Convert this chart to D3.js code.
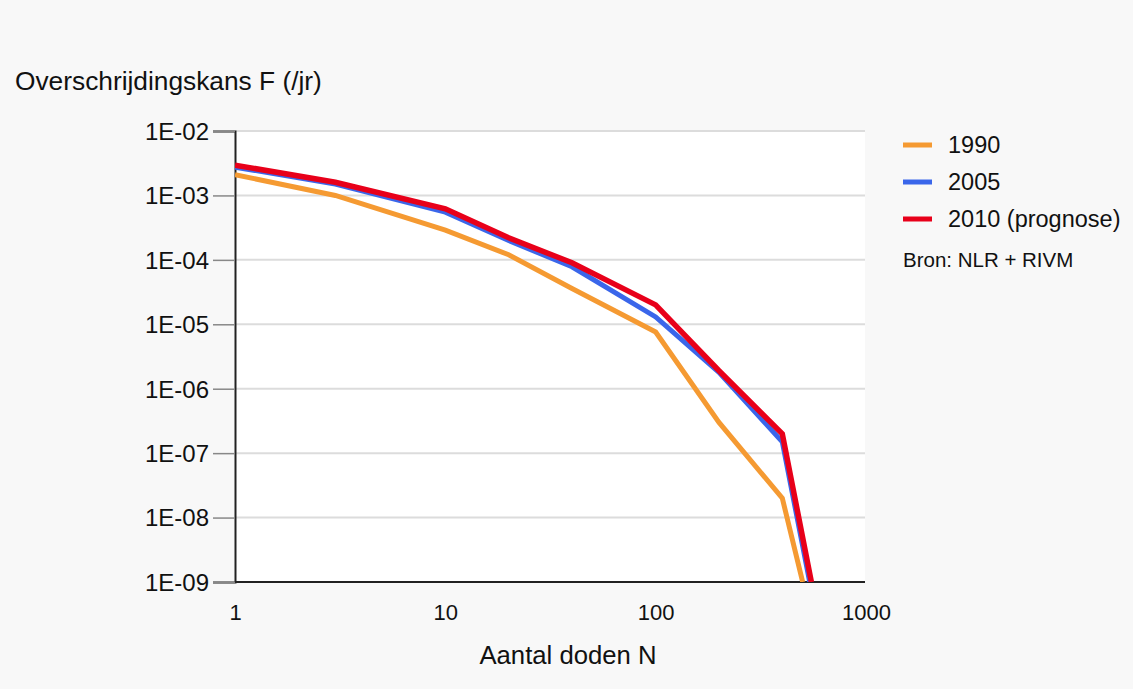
<!DOCTYPE html>
<html lang="nl">
<head>
<meta charset="UTF-8">
<title>FN-curve</title>
<script src="https://d3js.org/d3.v7.min.js"></script>
<style>
    body { margin: 0; background: #f8f8f8; }
    svg text { font-family: "Liberation Sans", Arial, sans-serif; fill: #111; }
</style>
</head>
<body>
<script>
// data
const N1990 = [1, 3, 10, 20, 40, 100, 200, 400, 500];
const F1990 = [2.1e-3, 1.0e-3, 2.9e-4, 1.2e-4, 3.6e-5, 7.6e-6, 3.0e-7, 2.0e-8, 1e-9];
const N2005 = [1, 3, 10, 20, 40, 100, 200, 400, 540];
const F2005 = [2.75e-3, 1.5e-3, 5.5e-4, 2.0e-4, 7.8e-5, 1.3e-5, 1.8e-6, 1.5e-7, 1e-9];
const N2010 = [1, 3, 10, 20, 40, 100, 200, 400, 550];
const F2010 = [2.95e-3, 1.6e-3, 6.2e-4, 2.2e-4, 9.0e-5, 2.0e-5, 1.9e-6, 2.0e-7, 1e-9];
const seriesNames = ["1990", "2005", "2010 (prognose)"];
const seriesColors = ["#f59a32", "#3a66ea", "#e8001a"];
const xTicks = [1, 10, 100, 1000];
const yTicks = [1e-2, 1e-3, 1e-4, 1e-5, 1e-6, 1e-7, 1e-8, 1e-9];

const width = 1133, height = 689;
const plotL = 235, plotR = 865, plotT = 131, plotB = 582;

const svg = d3.select("body").append("svg")
    .attr("width", width)
    .attr("height", height);

const x = d3.scaleLog().domain([1, 1000]).range([plotL, 866]);
const y = d3.scaleLog().domain([1e-9, 1e-2]).range([plotB, plotT]);

// white plot area
svg.append("rect")
    .attr("x", plotL).attr("y", plotT)
    .attr("width", plotR - plotL).attr("height", plotB - plotT)
    .attr("fill", "#fff");

// gridlines
svg.append("g").selectAll("line")
    .data(yTicks.slice(0, -1))
    .enter().append("line")
    .attr("x1", plotL).attr("x2", plotR)
    .attr("y1", d => y(d)).attr("y2", d => y(d))
    .attr("stroke", "#dcdcdc").attr("stroke-width", 2);

// y axis with ticks
const yAxis = svg.append("g")
    .attr("transform", `translate(${plotL},0)`)
    .call(d3.axisLeft(y).tickValues(yTicks).tickSize(22).tickPadding(4)
        .tickFormat(d => "1E-" + String(Math.round(-Math.log10(d))).padStart(2, "0")));
yAxis.select(".domain").attr("stroke", "#222").attr("stroke-width", 2);
yAxis.selectAll(".tick line").attr("stroke", "#888").attr("stroke-width", 1.5);
yAxis.selectAll(".tick text").style("font-size", "24px").attr("dy", "0.35em");

// x axis
const xAxis = svg.append("g")
    .attr("transform", `translate(0,${plotB})`)
    .call(d3.axisBottom(x).tickValues(xTicks).tickSize(0).tickPadding(22)
        .tickFormat(d3.format("d")));
xAxis.select(".domain").attr("d", `M${plotL},0H${plotR}`).attr("stroke", "#222").attr("stroke-width", 2);
xAxis.selectAll(".tick text").style("font-size", "22px");

// lines
const line = d3.line().x(d => x(d[0])).y(d => y(d[1]));
const series = [
    d3.zip(N1990, F1990),
    d3.zip(N2005, F2005),
    d3.zip(N2010, F2010)
];
const widths = [5, 5, 5.5];

svg.append("defs").append("clipPath").attr("id", "clip")
    .append("rect").attr("x", plotL).attr("y", plotT - 10)
    .attr("width", plotR - plotL).attr("height", plotB - plotT + 10);

svg.append("g").attr("clip-path", "url(#clip)")
    .selectAll("path")
    .data(series)
    .enter().append("path")
    .attr("d", line)
    .attr("fill", "none")
    .attr("stroke", (d, i) => seriesColors[i])
    .attr("stroke-width", (d, i) => widths[i])
    .attr("stroke-linejoin", "miter");

// legend
const legend = svg.append("g").selectAll("g")
    .data(seriesNames)
    .enter().append("g")
    .attr("transform", (d, i) => `translate(903,${145 + i * 37})`);
legend.append("line")
    .attr("x1", 0).attr("x2", 29)
    .attr("stroke", (d, i) => seriesColors[i])
    .attr("stroke-width", 5);
legend.append("text")
    .attr("x", 45).attr("dy", "0.35em")
    .style("font-size", "23.5px")
    .text(d => d);

svg.append("text")
    .attr("x", 903).attr("y", 267)
    .style("font-size", "20.5px")
    .text("Bron: NLR + RIVM");

// axis titles
svg.append("text")
    .attr("x", 15).attr("y", 90)
    .style("font-size", "26.3px")
    .text("Overschrijdingskans F (/jr)");

svg.append("text")
    .attr("x", 568).attr("y", 664)
    .attr("text-anchor", "middle")
    .style("font-size", "25.7px")
    .text("Aantal doden N");
</script>
</body>
</html>
